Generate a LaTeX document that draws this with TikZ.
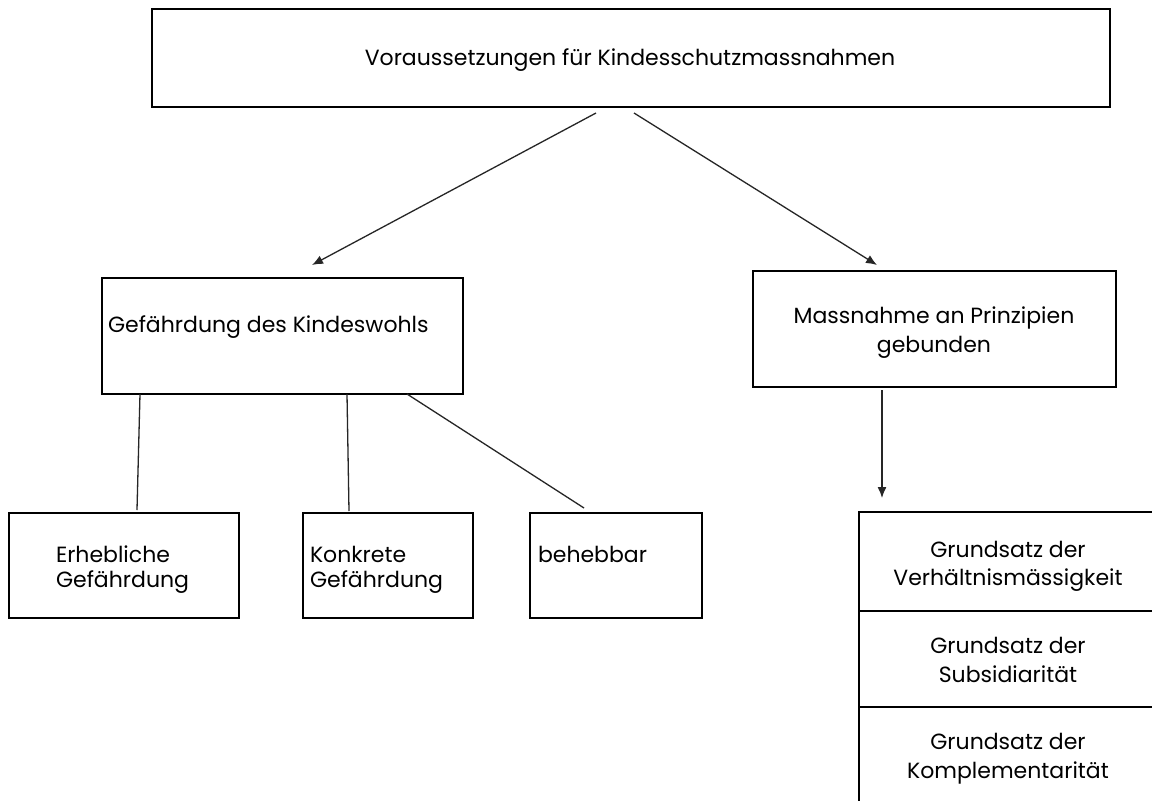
\documentclass[tikz,border=0pt]{standalone}
\usepackage{fontspec}
\setmainfont{Poppins}
\usetikzlibrary{arrows.meta,calc}
\newcommand{\twoline}[4]{{\fontsize{22}{#2}\selectfont\begin{tabular}[t]{@{}#1@{}}#3\\#4\end{tabular}}}
\begin{document}
\begin{tikzpicture}[x=1pt,y=-1pt,
  box/.style={draw=black,line width=1.6pt,rectangle,inner sep=0pt,outer sep=0pt},
  txt/.style={inner sep=0pt,outer sep=0pt,font=\fontsize{22}{28}\selectfont,text=black},
  conn/.style={draw=black!85,line width=1.3pt},
  arr/.style={conn,-{Latex[length=11pt,width=9pt]}}]
\useasboundingbox (0,0) rectangle (1152,801);
\clip (0,0) rectangle (1152,801);
\fill[white] (0,0) rectangle (1152,801);
% boxes
\node[box,minimum width=958pt,minimum height=98pt] (top) at (631,58) {};
\node[box,minimum width=361pt,minimum height=116pt] (gef) at (282.5,336) {};
\node[box,minimum width=363pt,minimum height=116pt] (mass) at (934.5,329) {};
\node[box,minimum width=230pt,minimum height=105pt] (erh) at (124,565.5) {};
\node[box,minimum width=170pt,minimum height=105pt] (kon) at (388,565.5) {};
\node[box,minimum width=172pt,minimum height=105pt] (beh) at (616,565.5) {};
\node[box,minimum width=311pt,minimum height=99pt] (g1) at (1014.5,561.5) {};
\node[box,minimum width=311pt,minimum height=96pt] (g2) at (1014.5,659) {};
\node[box,minimum width=311pt,minimum height=113pt] (g3) at (1014.5,763.5) {};
% texts
\node[txt,anchor=base] (ttop) at (630,65) {Voraussetzungen für Kindesschutzmassnahmen};
\node[txt,anchor=base west] (tgef) at (108,332) {Gefährdung des Kindeswohls};
\node[txt,anchor=base] (tmass) at (934,323) {\twoline{c}{29}{Massnahme an Prinzipien}{gebunden}};
\node[txt,anchor=base west] (terh) at (56,562) {\twoline{l}{25}{Erhebliche}{Gefährdung}};
\node[txt,anchor=base west] (tkon) at (310,562) {\twoline{l}{25}{Konkrete}{Gefährdung}};
\node[txt,anchor=base west] (tbeh) at (538,562) {behebbar};
\node[txt,anchor=base] (tg1) at (1008,557) {\twoline{c}{28}{Grundsatz der}{Verhältnismässigkeit}};
\node[txt,anchor=base] (tg2) at (1008,653) {\twoline{c}{29}{Grundsatz der}{Subsidiarität}};
\node[txt,anchor=base] (tg3) at (1008,749) {\twoline{c}{29}{Grundsatz der}{Komplementarität}};
% connectors
\draw[arr] ([shift={(-35,6)}]top.south) -- ([shift={(29.5,-13)}]gef.north);
\draw[arr] ([shift={(3,6)}]top.south) -- ([shift={(-57.5,-6)}]mass.north);
\draw[arr] ([shift={(-52.5,3)}]mass.south) -- ([shift={(-132.5,-14)}]g1.north);
\draw[conn] ([shift={(-142.5,0)}]gef.south) -- ([shift={(13,-3)}]erh.north);
\draw[conn] ([shift={(64.5,0)}]gef.south) -- ([shift={(-39,-2)}]kon.north);
\draw[conn] ([shift={(124.5,0)}]gef.south) -- ([shift={(-32,-5)}]beh.north);
\end{tikzpicture}
\end{document}
